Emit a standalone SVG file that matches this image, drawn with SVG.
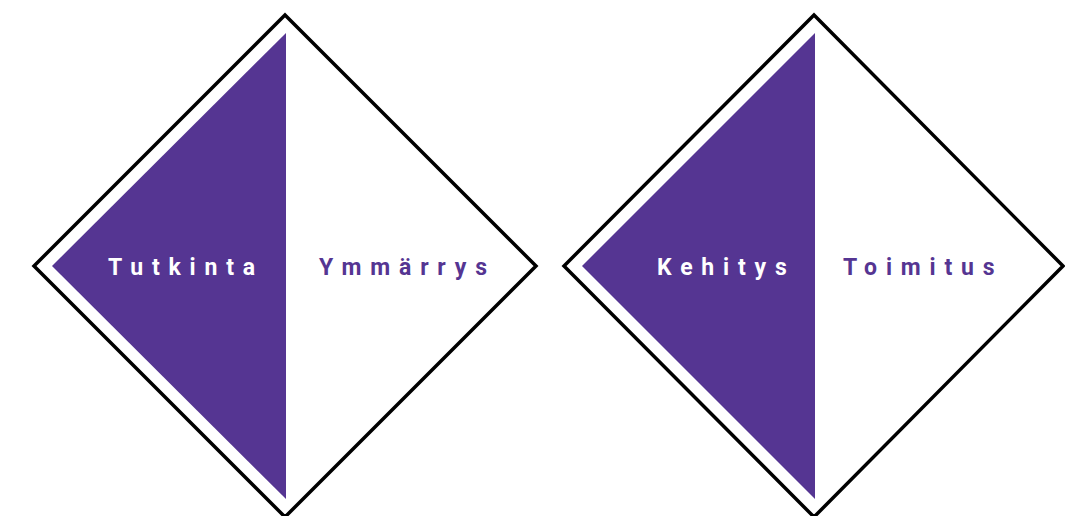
<svg xmlns="http://www.w3.org/2000/svg" width="1065" height="516" viewBox="0 0 1065 516">
<style>
.frame{fill:#fff;stroke:#000;stroke-width:3.5}
.tri{fill:#553592}
.lbl{font-family:Roboto,"Liberation Sans",sans-serif;font-weight:bold;font-size:23px;letter-spacing:8.8px}
.w{fill:#fff}
.p{fill:#553592}
</style>
<rect width="1065" height="516" fill="#fff"/>
<g id="left">
<polygon class="frame" points="285,15 536,266 285,517 34,266"/>
<polygon class="tri" points="286,33 286,499 52,266"/>
<text class="lbl w" x="108" y="275">Tutkinta</text>
<text class="lbl p" x="319" y="275">Ymmärrys</text>
</g>
<g id="right">
<polygon class="frame" points="814,15 1063,266 814,517 564,266"/>
<polygon class="tri" points="815,33 815,499 582,266"/>
<text class="lbl w" x="657" y="275">Kehitys</text>
<text class="lbl p" x="843" y="275">Toimitus</text>
</g>
<g id="connectors"/>
</svg>
